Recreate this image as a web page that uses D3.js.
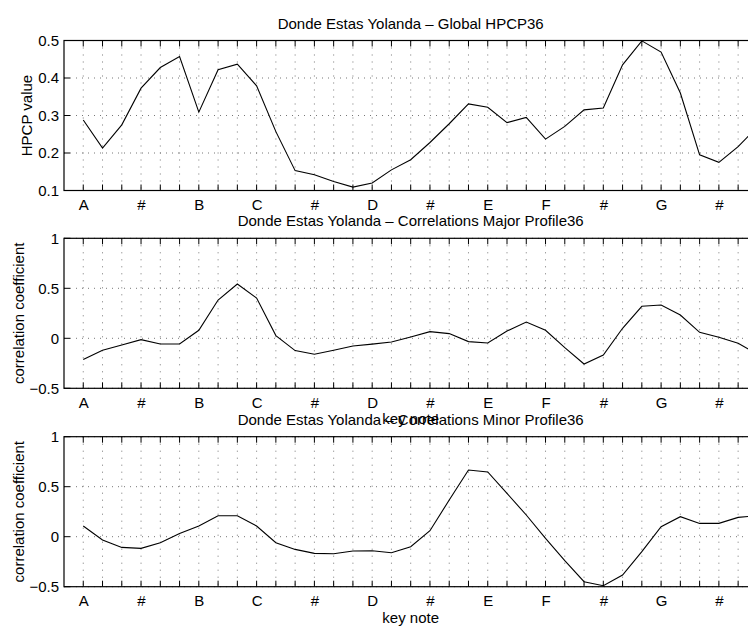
<!DOCTYPE html>
<html>
<head>
<meta charset="utf-8">
<script src="https://cdn.jsdelivr.net/npm/d3@7"></script>
<style>
  body { margin: 0; background: #fff; }
  svg { display: block; }
  text { font-family: "Liberation Sans", Arial, Helvetica, sans-serif; font-size: 15px; fill: #000; }
</style>
</head>
<body>
<div id="graph"></div>
<script>
var noteLabels = ["A", "#", "B", "C", "#", "D", "#", "E", "F", "#", "G", "#"];
var labelPositions = [1, 4, 7, 10, 13, 16, 19, 22, 25, 28, 31, 34];

var hpcp = [0.288, 0.213, 0.275, 0.373, 0.428, 0.457, 0.309, 0.422, 0.437, 0.379,
    0.257, 0.153, 0.142, 0.124, 0.109, 0.120, 0.155, 0.182, 0.228, 0.278,
    0.331, 0.322, 0.281, 0.295, 0.237, 0.271, 0.315, 0.320, 0.435, 0.499,
    0.469, 0.360, 0.195, 0.175, 0.217, 0.270];

var majorCorr = [-0.213, -0.120, -0.067, -0.013, -0.057, -0.057, 0.080, 0.383, 0.543, 0.403,
    0.027, -0.123, -0.160, -0.120, -0.077, -0.058, -0.037, 0.013, 0.067, 0.047,
    -0.033, -0.047, 0.073, 0.163, 0.080, -0.093, -0.257, -0.167, 0.100, 0.320,
    0.333, 0.233, 0.060, 0.010, -0.050, -0.160];

var minorCorr = [0.107, -0.033, -0.107, -0.117, -0.060, 0.033, 0.107, 0.210, 0.210, 0.107,
    -0.060, -0.127, -0.167, -0.170, -0.143, -0.140, -0.160, -0.100, 0.060, 0.367,
    0.667, 0.647, 0.433, 0.217, -0.017, -0.240, -0.450, -0.490, -0.383, -0.150,
    0.100, 0.200, 0.133, 0.133, 0.193, 0.210];

var hpcpTicks = [0.1, 0.2, 0.3, 0.4, 0.5];
var corrTicks = [-0.5, 0, 0.5, 1];

var panels = [
    {title: "Donde Estas Yolanda \u2013 Global HPCP36", ylabel: "HPCP value", values: hpcp,
     domain: [0.1, 0.5], ticks: hpcpTicks, top: 40.5, xlabel: false, ylabelX: 27},
    {title: "Donde Estas Yolanda \u2013 Correlations Major Profile36", ylabel: "correlation coefficient", values: majorCorr,
     domain: [-0.5, 1], ticks: corrTicks, top: 238.3, xlabel: true, ylabelX: 18.5},
    {title: "Donde Estas Yolanda \u2013 Correlations Minor Profile36", ylabel: "correlation coefficient", values: minorCorr,
     domain: [-0.5, 1], ticks: corrTicks, top: 436.7, xlabel: true, ylabelX: 18.5}
];

init();

function init() {
    var w = 748, h = 626;
    var left = 64, right = 757.4, ph = 150;

    var vis = d3.select("#graph")
        .append("svg")
        .attr("width", w)
        .attr("height", h);

    var x = d3.scaleLinear().domain([0, 36]).range([left, right]);
    var xTicks = d3.range(1, 37);

    panels.forEach(function(p) {
        var y = d3.scaleLinear().domain(p.domain).range([p.top + ph, p.top]);
        var g = vis.append("g");

        // grid
        g.selectAll(".vgrid")
            .data(xTicks)
            .enter()
            .append("line")
            .attr("x1", function(d) { return x(d); })
            .attr("x2", function(d) { return x(d); })
            .attr("y1", p.top)
            .attr("y2", p.top + ph)
            .attr("stroke", "#777")
            .attr("stroke-width", 1)
            .attr("stroke-dasharray", "1,6");

        g.selectAll(".hgrid")
            .data(p.ticks)
            .enter()
            .append("line")
            .attr("x1", left)
            .attr("x2", right)
            .attr("y1", function(d) { return y(d); })
            .attr("y2", function(d) { return y(d); })
            .attr("stroke", "#777")
            .attr("stroke-width", 1)
            .attr("stroke-dasharray", "1,5");

        // data line
        var line = d3.line()
            .x(function(d, i) { return x(i + 1); })
            .y(function(d) { return y(d); });

        g.append("path")
            .datum(p.values)
            .attr("d", line)
            .attr("fill", "none")
            .attr("stroke", "#000")
            .attr("stroke-width", 1.1);

        // axes
        var xBottom = d3.axisBottom(x)
            .tickValues(labelPositions)
            .tickSize(0)
            .tickPadding(8)
            .tickFormat(function(d, i) { return noteLabels[i]; });

        var xb = g.append("g")
            .attr("transform", "translate(0," + (p.top + ph) + ")")
            .call(xBottom);
        xb.select(".domain").remove();
        xb.selectAll("text").style("font-size", "15px").attr("dy", "0.75em");

        var yLeft = d3.axisLeft(y)
            .tickValues(p.ticks)
            .tickSize(0)
            .tickPadding(5)
            .tickFormat(function(d) { return d3.format("")(d).replace("-", "\u2212"); });

        var yl = g.append("g")
            .attr("transform", "translate(" + left + ",0)")
            .call(yLeft);
        yl.select(".domain").remove();
        yl.selectAll("text").style("font-size", "15px");

        // tick marks (inward)
        g.selectAll(".tb")
            .data(xTicks)
            .enter()
            .append("line")
            .attr("x1", function(d) { return x(d); })
            .attr("x2", function(d) { return x(d); })
            .attr("y1", p.top + ph)
            .attr("y2", p.top + ph - 6)
            .attr("stroke", "#000");

        g.selectAll(".tt")
            .data(xTicks)
            .enter()
            .append("line")
            .attr("x1", function(d) { return x(d); })
            .attr("x2", function(d) { return x(d); })
            .attr("y1", p.top)
            .attr("y2", p.top + 6)
            .attr("stroke", "#000");

        g.selectAll(".tl")
            .data(p.ticks)
            .enter()
            .append("line")
            .attr("x1", left)
            .attr("x2", left + 6)
            .attr("y1", function(d) { return y(d); })
            .attr("y2", function(d) { return y(d); })
            .attr("stroke", "#000");

        // border
        g.append("rect")
            .attr("x", left)
            .attr("y", p.top)
            .attr("width", right - left)
            .attr("height", ph)
            .attr("fill", "none")
            .attr("stroke", "#000")
            .attr("stroke-width", 1.2);

        // labels
        g.append("text")
            .attr("x", (left + right) / 2)
            .attr("y", p.top - 12)
            .attr("text-anchor", "middle")
            .text(p.title);

        g.append("text")
            .attr("transform", "translate(" + p.ylabelX + "," + (p.top + ph / 2) + ") rotate(-90)")
            .attr("text-anchor", "middle")
            .attr("dy", "0.35em")
            .text(p.ylabel);

        if (p.xlabel) {
            g.append("text")
                .attr("x", (left + right) / 2)
                .attr("y", p.top + ph + 36)
                .attr("text-anchor", "middle")
                .text("key note");
        }
    });
}
</script>
</body>
</html>
